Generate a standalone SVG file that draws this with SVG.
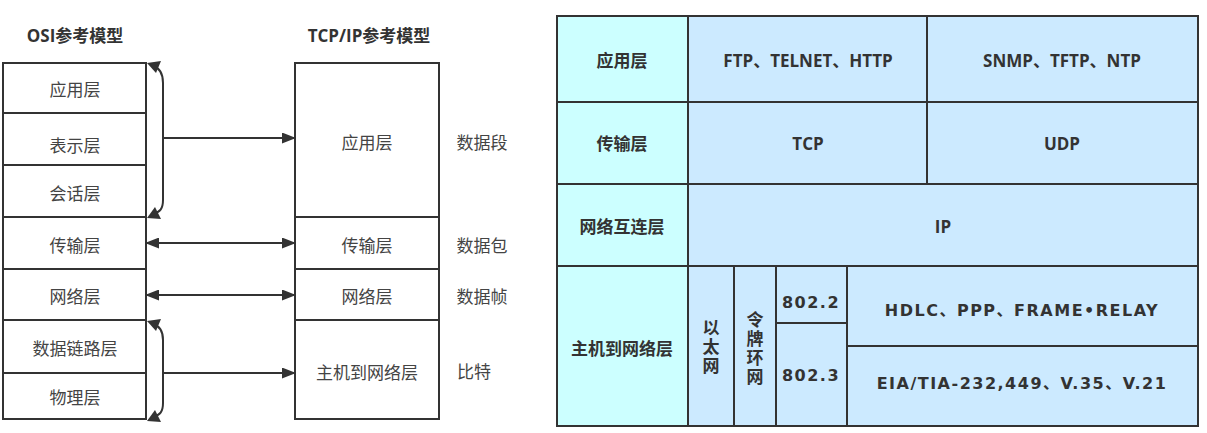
<svg xmlns="http://www.w3.org/2000/svg" width="1207" height="433" viewBox="0 0 1207 433">
<defs>
<style>
.box{fill:#fff;stroke:#333;stroke-width:2}
.t{font-family:"Noto Sans CJK SC","Open Sans",sans-serif;font-size:17px;fill:#444;text-anchor:middle;dominant-baseline:central}
.tb{font-family:"Open Sans","Noto Sans CJK SC",sans-serif;font-size:17px;font-weight:bold;fill:#333;text-anchor:middle;dominant-baseline:central}
.tv{font-family:"Noto Sans CJK SC",sans-serif;font-size:17px;font-weight:bold;fill:#333;text-anchor:middle;writing-mode:vertical-rl;letter-spacing:2px}
.tm{font-family:"DejaVu Sans","Noto Sans CJK SC",sans-serif;font-size:16px;font-weight:bold;fill:#333;text-anchor:middle;dominant-baseline:central;letter-spacing:1.5px}
.c1{fill:#ccffff;stroke:#333;stroke-width:2}
.c2{fill:#cceaff;stroke:#333;stroke-width:2}
.ln{fill:none;stroke:#333;stroke-width:2}
.hd{fill:#333}
</style>
<marker id="ah" viewBox="0 0 14 11" refX="13" refY="5.5" markerWidth="14" markerHeight="11" markerUnits="userSpaceOnUse" orient="auto-start-reverse">
<path d="M0,0 L14,5.5 L0,11 z" fill="#333"/>
</marker>
</defs>
<text class="tb" x="75" y="35">OSI参考模型</text>
<text class="tb" x="369" y="35">TCP/IP参考模型</text>
<g id="osi">
<rect class="box" x="3" y="63" width="143" height="50"/>
<rect class="box" x="3" y="113" width="143" height="52"/>
<rect class="box" x="3" y="165" width="143" height="52"/>
<rect class="box" x="3" y="217" width="143" height="52"/>
<rect class="box" x="3" y="269" width="143" height="51"/>
<rect class="box" x="3" y="320" width="143" height="53"/>
<rect class="box" x="3" y="373" width="143" height="46"/>
<text class="t" x="75" y="88">应用层</text>
<text class="t" x="75" y="144">表示层</text>
<text class="t" x="75" y="192">会话层</text>
<text class="t" x="75" y="244">传输层</text>
<text class="t" x="75" y="295">网络层</text>
<text class="t" x="75" y="347">数据链路层</text>
<text class="t" x="75" y="396">物理层</text>
</g>
<g id="tcpip">
<rect class="box" x="295" y="63" width="144" height="154"/>
<rect class="box" x="295" y="217" width="144" height="52"/>
<rect class="box" x="295" y="269" width="144" height="51"/>
<rect class="box" x="295" y="320" width="144" height="99"/>
<text class="t" x="367" y="141">应用层</text>
<text class="t" x="367" y="244">传输层</text>
<text class="t" x="367" y="295">网络层</text>
<text class="t" x="367" y="371">主机到网络层</text>
</g>
<g id="units">
<text class="t" x="482" y="141">数据段</text>
<text class="t" x="482" y="244">数据包</text>
<text class="t" x="482" y="295">数据帧</text>
<text class="t" x="474" y="370">比特</text>
</g>
<g id="connectors">
<path class="ln" d="M153,66 C160,68 163,73 163,83 L163,200 C163,209 160,212 153,214"/>
<polygon class="hd" points="147,63 161,61 156,73"/>
<polygon class="hd" points="147,218 155,207 161,219"/>
<path class="ln" d="M163,138 L295,138" marker-end="url(#ah)"/>
<path class="ln" d="M146,243 L295,243" marker-start="url(#ah)" marker-end="url(#ah)"/>
<path class="ln" d="M146,295 L295,295" marker-start="url(#ah)" marker-end="url(#ah)"/>
<path class="ln" d="M153,324 C160,326 163,331 163,340 L163,403 C163,412 160,415 153,417"/>
<polygon class="hd" points="147,321 161,319 156,331"/>
<polygon class="hd" points="147,421 155,410 161,422"/>
<path class="ln" d="M163,373 L295,373" marker-end="url(#ah)"/>
</g>
<g id="table">
<rect class="c1" x="557" y="16" width="131" height="86"/>
<rect class="c1" x="557" y="102" width="131" height="82"/>
<rect class="c1" x="557" y="184" width="131" height="82"/>
<rect class="c1" x="557" y="266" width="131" height="160"/>
<rect class="c2" x="688" y="16" width="239" height="86"/>
<rect class="c2" x="927" y="16" width="271" height="86"/>
<rect class="c2" x="688" y="102" width="239" height="82"/>
<rect class="c2" x="927" y="102" width="271" height="82"/>
<rect class="c2" x="688" y="184" width="510" height="82"/>
<rect class="c2" x="688" y="266" width="46" height="160"/>
<rect class="c2" x="734" y="266" width="42" height="160"/>
<rect class="c2" x="776" y="266" width="71" height="57"/>
<rect class="c2" x="776" y="323" width="71" height="103"/>
<rect class="c2" x="847" y="266" width="351" height="80"/>
<rect class="c2" x="847" y="346" width="351" height="80"/>
<text class="tb" x="622" y="60">应用层</text>
<text class="tb" x="808" y="60">FTP、TELNET、HTTP</text>
<text class="tb" x="1062" y="60">SNMP、TFTP、NTP</text>
<text class="tb" x="622" y="143">传输层</text>
<text class="tb" x="808" y="143">TCP</text>
<text class="tb" x="1062" y="143">UDP</text>
<text class="tb" x="622" y="226">网络互连层</text>
<text class="tb" x="943" y="226">IP</text>
<text class="tb" x="622" y="348">主机到网络层</text>
<text class="tv" x="711" y="348">以太网</text>
<text class="tv" x="755" y="349">令牌环网</text>
<text class="tm" x="811" y="302">802.2</text>
<text class="tm" x="811" y="375">802.3</text>
<text class="tm" x="1022" y="310">HDLC、PPP、FRAME•RELAY</text>
<text class="tm" x="1022" y="383">EIA/TIA-232,449、V.35、V.21</text>
</g>
</svg>
